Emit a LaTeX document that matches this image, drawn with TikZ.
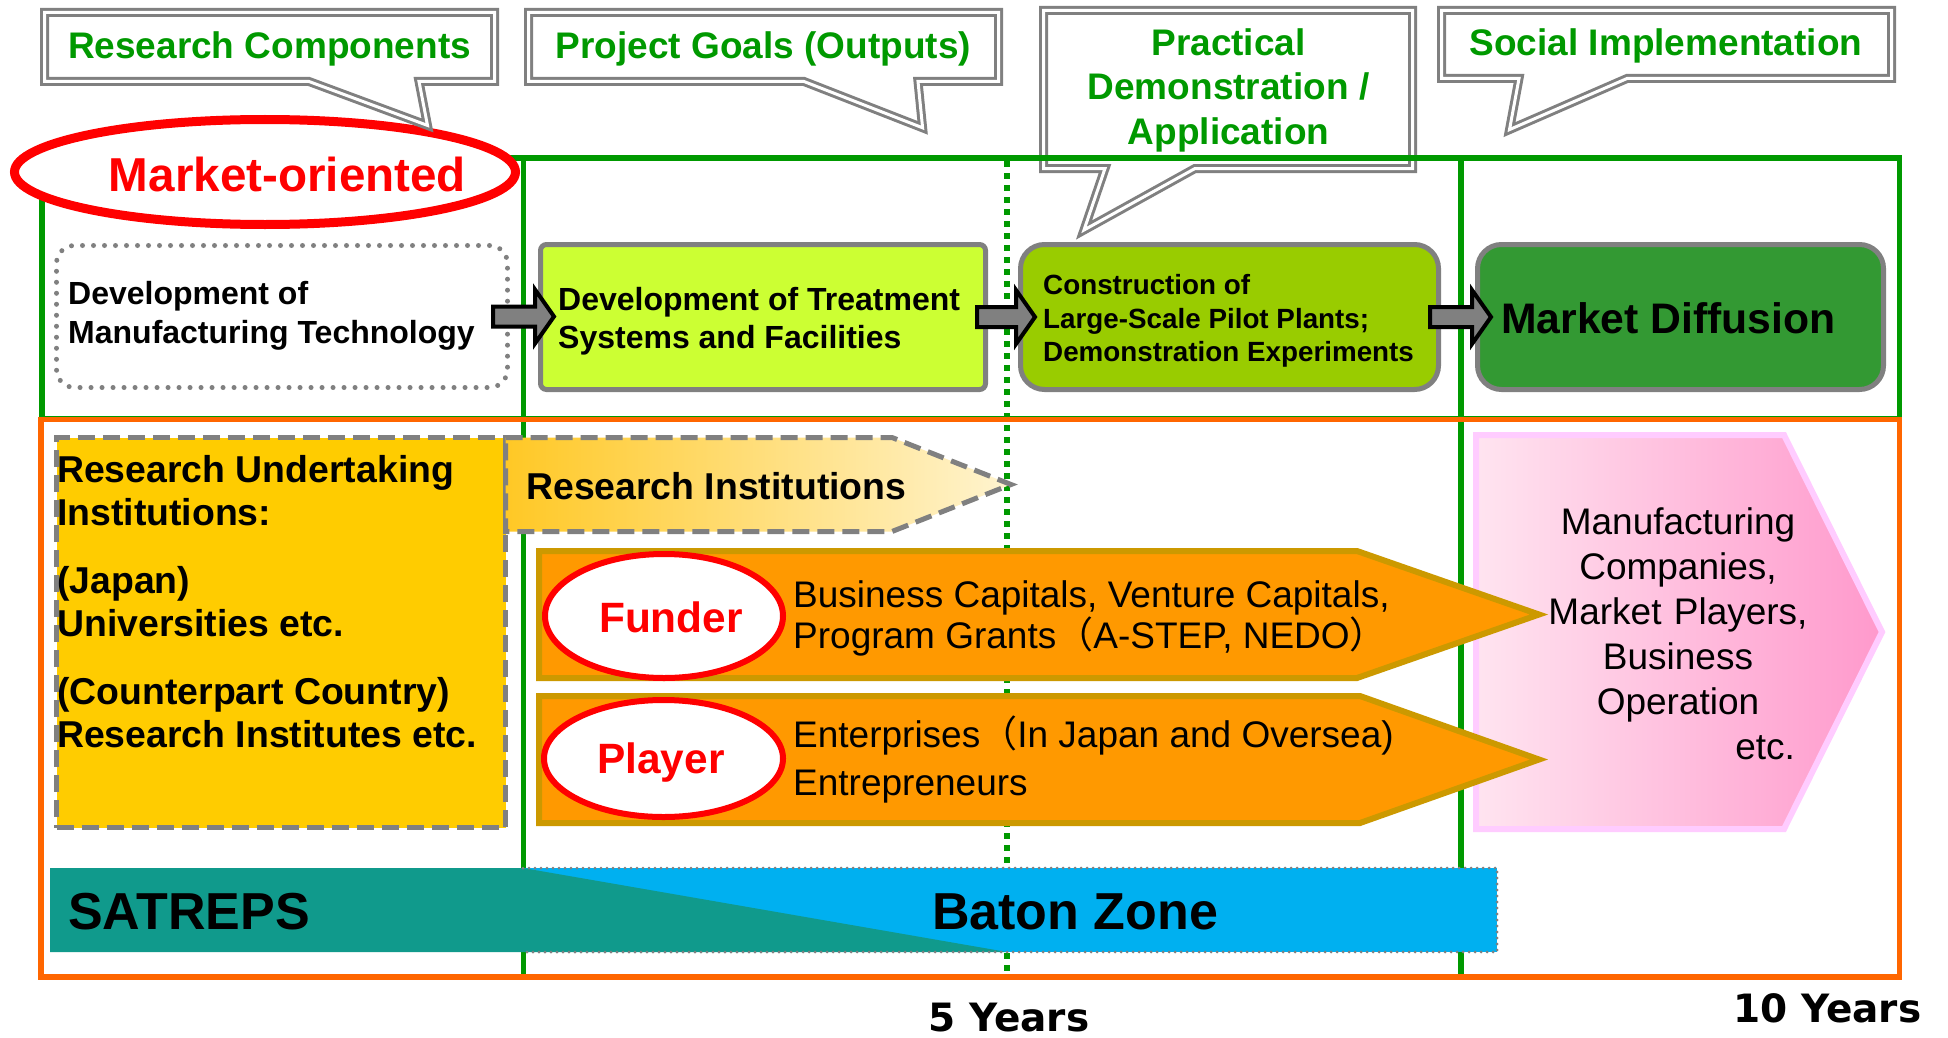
\documentclass[tikz,border=0pt]{standalone}
\usepackage{fontspec}
\setmainfont{Liberation Sans}
\newfontfamily\cjk{Noto Sans CJK JP}
\newfontfamily\yrfont{DejaVu Sans}
\usetikzlibrary{calc,shapes.geometric}
\newcommand\myfs[2]{\fontsize{#1}{#2}\selectfont}
\newcommand\fwo{\smash{{\cjk （}}}
\newcommand\fwc{\smash{{\cjk ）}}}
\definecolor{grn}{HTML}{009900}
\definecolor{org}{HTML}{FF6600}
\definecolor{gry}{HTML}{808080}
\definecolor{cLime}{HTML}{CCFF33}
\definecolor{cCons}{HTML}{99CC00}
\definecolor{cMkt}{HTML}{339933}
\definecolor{cYel}{HTML}{FFCC00}
\definecolor{cOrF}{HTML}{FF9900}
\definecolor{cOrB}{HTML}{CC9900}
\definecolor{cTeal}{HTML}{109A8C}
\definecolor{cBlue}{HTML}{00B0F0}
\definecolor{cPinkB}{HTML}{FFCCFF}
\definecolor{cPinkL}{HTML}{FFE4F0}
\definecolor{cPinkR}{HTML}{FF99CC}
\definecolor{cRiL}{HTML}{FFC825}
\definecolor{cRiR}{HTML}{FFF4D0}
\tikzset{
  callout/.style={draw=gry, line width=3pt, double=white, double distance=3pt, fill=white},
  ctext/.style={text=grn, font=\bfseries\myfs{37}{44.5}, align=center, inner sep=0pt},
  gline/.style={draw=grn, line width=5.5pt},
  gdots/.style={draw=grn, line width=6pt, dash pattern=on 6pt off 6pt},
  procbox/.style={draw=gry, line width=5pt, inner sep=0pt},
  graydash/.style={draw=gry, line width=5pt, dash pattern=on 17pt off 8pt},
  orarrow/.style={draw=cOrB, line width=6pt, fill=cOrF},
  roleell/.style={ellipse, draw=red, line width=6pt, fill=white, inner sep=0pt},
  plain/.style={inner sep=0pt},
  blockarr/.style={draw=black, line width=4pt, fill=gry,
    to path={let \p1=(\tikztostart), \p2=(\tikztotarget) in
      (\x1,\y1+10pt) -- (\x2-19pt,\y1+10pt) -- (\x2-19pt,\y1+27pt) -- (\x2,\y1)
      -- (\x2-19pt,\y1-27pt) -- (\x2-19pt,\y1-10pt) -- (\x1,\y1-10pt) -- cycle}}
}
\begin{document}
\begin{tikzpicture}[x=1pt,y=-1pt,font=\myfs{37}{43}]
\useasboundingbox (0,0) rectangle (1948,1038);
\fill[white] (0,0) rectangle (1948,1038);

% callout behind the frame
\draw[callout] (1043.5,10.5) -- (1412.5,10.5) -- (1412.5,168.5) -- (1195,168.5) -- (1084,230) -- (1105,168.5) -- (1043.5,168.5) -- cycle;

% frames and time lines
\draw[gline] (42,158) rectangle (1899.5,419);
\draw[gline] (523.5,158) -- (523.5,977);
\draw[gline] (1461,158) -- (1461,977);
\draw[gdots] (1007.3,161) -- (1007.3,977);
\draw[draw=org, line width=5.5pt] (41,419.5) rectangle (1899.5,977);

% market-oriented ellipse
\node[ellipse, draw=red, line width=9pt, fill=white, minimum width=501pt, minimum height=105pt, inner sep=0pt] (mkt) at (265,172) {};

% callouts
\draw[callout] (44.5,12.5) -- (494.5,12.5) -- (494.5,81.5) -- (419,81.5) -- (427.5,125.4) -- (309,81.5) -- (44.5,81.5) -- cycle;
\draw[callout] (528.5,12.5) -- (998.5,12.5) -- (998.5,81.5) -- (918,81.5) -- (922.6,127.8) -- (804,81.5) -- (528.5,81.5) -- cycle;
\draw[callout] (1441.5,10.5) -- (1891.5,10.5) -- (1891.5,78.5) -- (1627,78.5) -- (1509.5,129.6) -- (1519,78.5) -- (1441.5,78.5) -- cycle;

% upper process boxes
\node[draw=gry, line width=5pt, dash pattern=on 0pt off 11pt, line cap=round, rounded corners=18pt, minimum width=451pt, minimum height=142pt, inner sep=0pt] (devbox) at (282,316.5) {};
\node[procbox, fill=cLime, rounded corners=6pt, minimum width=445pt, minimum height=145pt] (treat) at (763,317) {};
\node[procbox, fill=cCons, rounded corners=24pt, minimum width=418pt, minimum height=145pt] (cons) at (1229.5,317) {};
\node[procbox, fill=cMkt, rounded corners=24pt, minimum width=406pt, minimum height=145pt] (market) at (1680.5,317) {};

% block connectors
\draw[blockarr] ($(devbox.east)+(-17,0)$) to ($(treat.west)+(16,0)$);
\draw[blockarr] ($(treat.east)+(-11,0)$) to ($(cons.west)+(17,0)$);
\draw[blockarr] ($(cons.east)+(-11,0)$) to ($(market.west)+(16,0)$);

% lower section
\node[graydash, fill=cYel, minimum width=449pt, minimum height=390pt, inner sep=0pt] (ylw) at (281,632.5) {};
\draw[graydash, left color=cRiL, right color=cRiR] (505.5,437.5) -- (892,437.5) -- (1011,484.5) -- (892,531.5) -- (505.5,531.5) -- cycle;
\draw[draw=cPinkB, line width=6pt, left color=cPinkL, right color=cPinkR] (1476,435) -- (1784,435) -- (1882,632) -- (1784,829) -- (1476,829) -- cycle;
\draw[orarrow] (539,551) -- (1357,551) -- (1539,614.5) -- (1357,678) -- (539,678) -- cycle;
\draw[orarrow] (539,696) -- (1360,696) -- (1539,759.5) -- (1360,823) -- (539,823) -- cycle;
\node[roleell, minimum width=238pt, minimum height=124pt] (fund) at (664,616) {};
\node[roleell, minimum width=239pt, minimum height=117pt] (play) at (663.5,758.5) {};

% SATREPS / Baton bar
\fill[cBlue] (523,868) rectangle (1497,952);
\fill[cTeal] (50,868) -- (523,868) -- (1007,952) -- (50,952) -- cycle;
\draw[gry, line width=3pt, dash pattern=on 0pt off 6pt, line cap=round] (523,868) -- (1497,868) -- (1497,952) -- (523,952);

% texts
\node[ctext] (c1t) at (269.5,48.5) {Research Components};
\node[ctext] (c2t) at (763.5,48.5) {Project Goals (Outputs)};
\node[ctext] (c3t) at (1228.5,90) {Practical\\Demonstration /\\Application};
\node[ctext] (c4t) at (1666,45.5) {Social Implementation};
\node[plain, text=red, font=\bfseries\myfs{47.6}{56}] (mktT) at (287.5,174) {Market-oriented};
\node[plain, anchor=west, align=left, font=\bfseries\myfs{32}{38.5}] (devT) at (68,316) {Development of\\Manufacturing Technology};
\node[plain, anchor=west, align=left, font=\bfseries\myfs{32}{38.5}] (treatT) at (558,321) {Development of Treatment\\Systems and Facilities};
\node[plain, anchor=west, align=left, font=\bfseries\myfs{27.8}{33.5}] (consT) at (1043,321) {Construction of\\Large-Scale Pilot Plants;\\Demonstration Experiments};
\node[plain, anchor=west, font=\bfseries\myfs{42.7}{50}] (marketT) at (1501,318) {Market Diffusion};
\node[plain, anchor=north west, align=left, font=\bfseries\myfs{37.4}{43}] (ylwT) at (57,455) {Research Undertaking\\Institutions:\\[25pt](Japan)\\Universities etc.\\[25pt](Counterpart Country)\\Research Institutes etc.};
\node[plain, anchor=west, font=\bfseries\myfs{37.4}{43}] (riT) at (526,486) {Research Institutions};
\node[plain, text=red, font=\bfseries\myfs{42.4}{50}] (fundT) at (671,617) {Funder};
\node[plain, text=red, font=\bfseries\myfs{42.4}{50}] (playT) at (661,763) {Player};
\node[plain, anchor=west, align=left, font=\myfs{37}{41}] (busT) at (793,618) {Business Capitals, Venture Capitals,\\Program Grants\fwo A-STEP, NEDO\fwc};
\node[plain, anchor=west, align=left, font=\myfs{37}{47.5}] (entT) at (793,762) {Enterprises\fwo In Japan and Oversea)\\Entrepreneurs};
\node[plain, align=center, text width=270pt, font=\myfs{37}{45}] (pinkT) at (1678,634) {Manufacturing\\Companies,\\Market Players,\\Business\\Operation\\\makebox[270pt][r]{etc.\hspace{18pt}}};
\node[plain, anchor=west, font=\bfseries\myfs{52}{60}] (satT) at (68,911.5) {SATREPS};
\node[plain, font=\bfseries\myfs{52}{60}] (batT) at (1075,911.5) {Baton Zone};
\node[plain, font=\yrfont\bfseries\myfs{39}{46}] (y5) at (1009,1018) {5 Years};
\node[plain, font=\yrfont\bfseries\myfs{39}{46}] (y10) at (1827.5,1008) {10 Years};
\end{tikzpicture}
\end{document}
